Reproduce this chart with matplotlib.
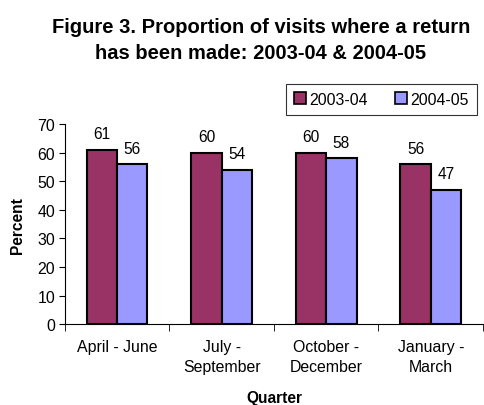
import numpy as np
import matplotlib
matplotlib.use("Agg")
from matplotlib import pyplot as plt

# Data
quarters = ["April - June", "July -\nSeptember", "October -\nDecember", "January -\nMarch"]
series_names = ["2003-04", "2004-05"]
vals_0304 = [61, 60, 60, 56]
vals_0405 = [56, 54, 58, 47]
colors = ["#993366", "#9999FF"]

plt.rcParams['font.family'] = ['Liberation Sans', 'DejaVu Sans']

fig = plt.figure(figsize=(4.84, 4.06), dpi=100)
ax = fig.add_axes([0.134, 0.199, 0.864, 0.493])

x = np.arange(len(quarters))
w = 0.29
b1 = ax.bar(x - w/2, vals_0304, w, color=colors[0], edgecolor="black", linewidth=1.5, label=series_names[0])
b2 = ax.bar(x + w/2, vals_0405, w, color=colors[1], edgecolor="black", linewidth=1.5, label=series_names[1])

#labels above bars
for bars in (b1, b2):
    for r in bars:
        ax.annotate(str(int(r.get_height())), (r.get_x() + r.get_width()/2, r.get_height()),
                    xytext=(0, 6), textcoords="offset points", ha="center", va="bottom", fontsize=11.2)

ax.set_xlim(-0.5, len(quarters) - 0.5)
ax.set_ylim(0, 70)
ax.set_yticks(range(0, 71, 10))
ax.tick_params(axis="y", labelsize=11.4, direction="out", length=4, pad=3)
ax.set_xticks(x)
ax.set_xticklabels(quarters, fontsize=11.4, linespacing=1.4)
ax.tick_params(axis="x", length=0, pad=11)
# category boundary ticks
ax.set_xticks(np.arange(len(quarters) + 1) - 0.5, minor=True)
ax.tick_params(axis="x", which="minor", length=5, direction="out")

ax.spines["top"].set_visible(False)
ax.spines["right"].set_visible(False)
ax.set_ylabel("Percent", fontsize=11.2, fontweight="bold", labelpad=9)
ax.set_xlabel("Quarter", fontsize=11.2, fontweight="bold", labelpad=11)

fig.suptitle("Figure 3. Proportion of visits where a return\nhas been made: 2003-04 & 2004-05",
             x=0.539, y=0.955, fontsize=14.5, fontweight="bold", linespacing=1.45)

leg = fig.legend(loc="upper left", bbox_to_anchor=(0.591, 0.791), borderaxespad=0, ncol=2,
                 fontsize=11.4, frameon=True, fancybox=False, edgecolor="black",
                 handlelength=0.75, handleheight=0.75, handletextpad=0.2, columnspacing=1.75,
                 borderpad=0.5)
leg.get_frame().set_linewidth(0.8)
for h in leg.legend_handles:
    h.set_linewidth(1.2)

fig.savefig("out.png", dpi=100)
